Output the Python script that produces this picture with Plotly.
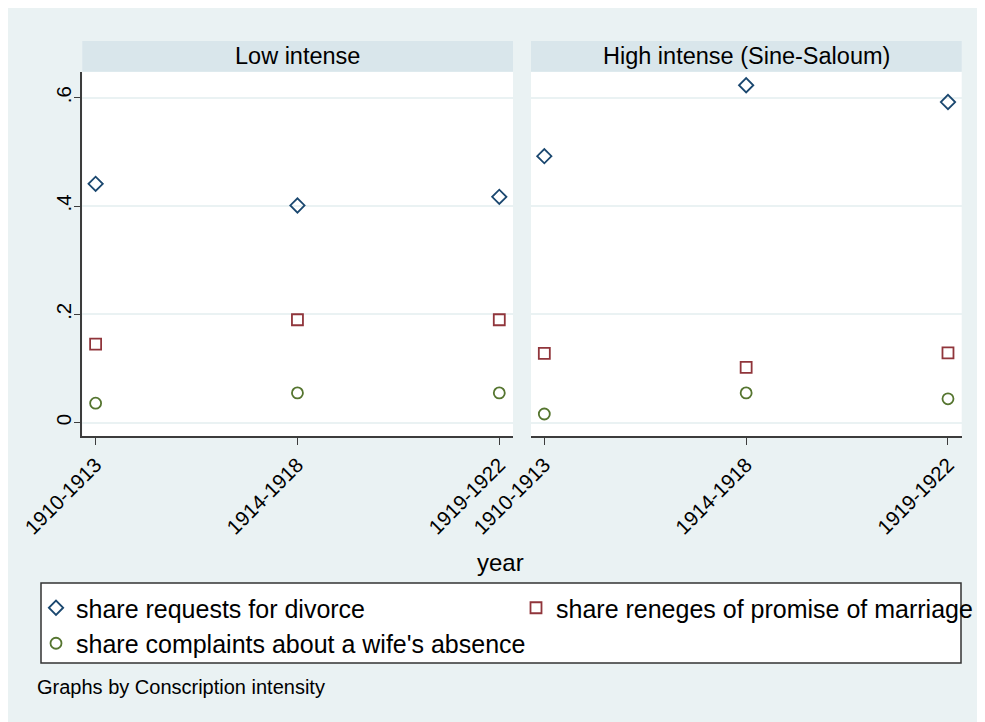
import plotly.graph_objects as go

# ---- data ----
periods = ["1910-1913", "1914-1918", "1919-1922"]
panels = ["Low intense", "High intense (Sine-Saloum)"]

divorce_low = [0.441, 0.401, 0.417]
reneges_low = [0.145, 0.190, 0.190]
absence_low = [0.036, 0.055, 0.055]

divorce_high = [0.492, 0.623, 0.592]
reneges_high = [0.128, 0.102, 0.129]
absence_high = [0.016, 0.055, 0.044]

series_names = ["share requests for divorce",
                "share reneges of promise of marriage",
                "share complaints about a wife's absence"]
y_tickvals = [0, 0.2, 0.4, 0.6]
y_ticktext = ["0", ".2", ".4", ".6"]

# ---- style ----
W, H = 985, 722
OFF = 8  # page body margin
FONT = "Arial, Liberation Sans, sans-serif"
BG = "#eaf2f3"
STRIP = "#d9e6eb"
AXIS = "#3c3c3c"
NAVY = "#1a476f"
MAROON = "#90353b"
GREEN = "#55752f"

def px_x(p):
    return (p - OFF) / W

def px_y(p):
    return 1 - (p - OFF) / H

x1 = [px_x(82.3), px_x(513)]
x2 = [px_x(531), px_x(961.7)]
ydom = [px_y(436), px_y(71.7)]

fig = go.Figure()

styles = [
    dict(symbol="diamond-open", size=11, color=NAVY, lw=435),
    dict(symbol="square-open", size=11, color=MAROON, lw=425),
    dict(symbol="circle-open", size=11, color=GREEN, lw=435),
]

data_low = [divorce_low, reneges_low, absence_low]
data_high = [divorce_high, reneges_high, absence_high]

for i, (name, st) in enumerate(zip(series_names, styles)):
    mk = dict(symbol=st["symbol"], size=st["size"],
              line=dict(color=st["color"], width=1.8), color=st["color"])
    fig.add_trace(go.Scatter(
        x=periods, y=data_low[i], mode="markers", name=name,
        legendgroup=name, showlegend=True, legendwidth=st["lw"],
        marker=mk, xaxis="x", yaxis="y"))
    fig.add_trace(go.Scatter(
        x=periods, y=data_high[i], mode="markers", name=name,
        legendgroup=name, showlegend=False,
        marker=mk, xaxis="x2", yaxis="y2"))

yrange = [-0.0246, 0.648]
xrange = [-0.066, 2.068]

xcommon = dict(
    type="category", range=xrange, showgrid=False, zeroline=False,
    showline=True, linecolor=AXIS, linewidth=1.5,
    ticks="outside", ticklen=7, tickcolor=AXIS, tickwidth=1.3,
    tickangle=-45, tickfont=dict(family=FONT, size=20.5, color="#000"),
    automargin=False,
)

fig.update_layout(
    width=W, height=H, autosize=False,
    margin=dict(l=0, r=0, t=0, b=0, pad=0),
    paper_bgcolor=BG, plot_bgcolor="white",
    font=dict(family=FONT, color="#000"),
    xaxis=dict(domain=x1, anchor="y", **xcommon),
    xaxis2=dict(domain=x2, anchor="y2", **xcommon),
    yaxis=dict(domain=ydom, anchor="x", range=yrange,
               tickvals=y_tickvals, ticktext=y_ticktext,
               showgrid=True, gridcolor=BG, gridwidth=2, zeroline=False,
               showline=True, linecolor=AXIS, linewidth=1.5,
               ticks="outside", ticklen=7, tickcolor=AXIS, tickwidth=1.3,
               tickangle=-90, automargin=False, ticklabelstandoff=-6,
               tickfont=dict(family=FONT, size=20.5, color="#000")),
    yaxis2=dict(domain=ydom, anchor="x2", range=yrange, matches="y",
                tickvals=y_tickvals, showticklabels=False,
                showgrid=True, gridcolor=BG, gridwidth=2, zeroline=False,
                showline=False, ticks="", automargin=False),
    showlegend=True,
    legend=dict(
        orientation="h", x=px_x(36), y=px_y(585), xanchor="left", yanchor="top",
        bgcolor="rgba(0,0,0,0)", borderwidth=0,
        font=dict(family=FONT, size=25, color="#000"),
        itemsizing="trace", tracegroupgap=0,
    ),
)

shapes = [
    # strips
    dict(type="rect", xref="paper", yref="paper", x0=x1[0], x1=x1[1],
         y0=ydom[1], y1=px_y(41), fillcolor=STRIP, line=dict(width=0), layer="below"),
    dict(type="rect", xref="paper", yref="paper", x0=x2[0], x1=x2[1],
         y0=ydom[1], y1=px_y(41), fillcolor=STRIP, line=dict(width=0), layer="below"),
    # legend box
    dict(type="rect", xref="paper", yref="paper", x0=px_x(41), x1=px_x(961),
         y0=px_y(663), y1=px_y(583), fillcolor="white",
         line=dict(color="#333333", width=1.5), layer="below"),
]

annotations = [
    dict(text=panels[0], xref="paper", yref="paper", x=(x1[0] + x1[1]) / 2,
         y=px_y(56), xanchor="center", yanchor="middle", showarrow=False,
         font=dict(family=FONT, size=23.5, color="#000")),
    dict(text=panels[1], xref="paper", yref="paper", x=(x2[0] + x2[1]) / 2,
         y=px_y(56), xanchor="center", yanchor="middle", showarrow=False,
         font=dict(family=FONT, size=23.5, color="#000")),
    dict(text="year", xref="paper", yref="paper", x=px_x(500), y=px_y(562),
         xanchor="center", yanchor="middle", showarrow=False,
         font=dict(family=FONT, size=24, color="#000")),
    dict(text="Graphs by Conscription intensity", xref="paper", yref="paper",
         x=px_x(35), y=px_y(687), xanchor="left", yanchor="middle", showarrow=False,
         font=dict(family=FONT, size=20, color="#000")),
]

fig.update_layout(shapes=shapes, annotations=annotations)

fig.write_html("out.html")
